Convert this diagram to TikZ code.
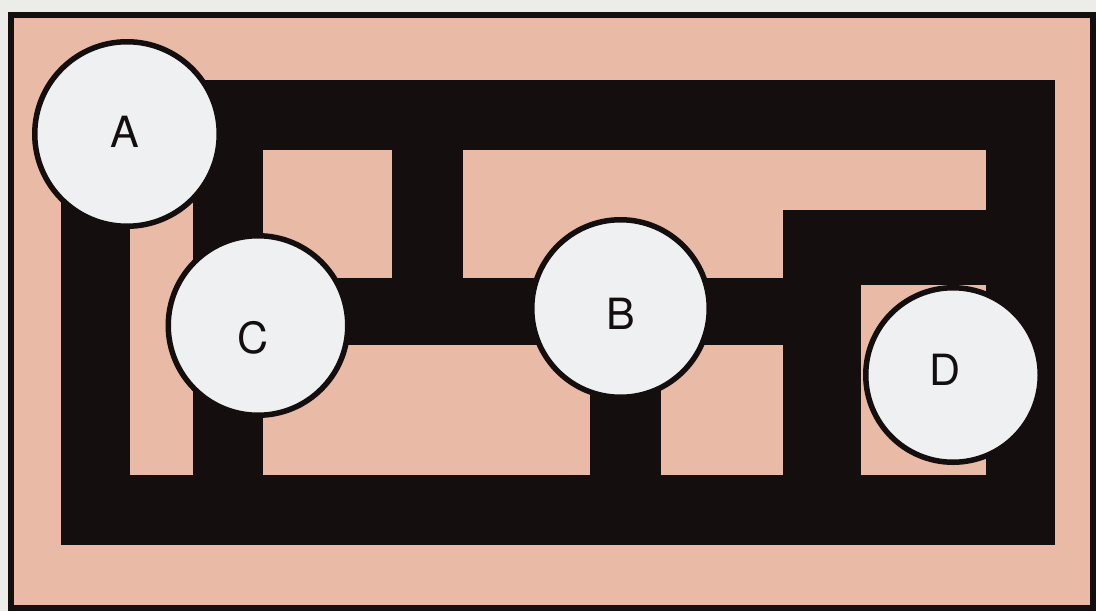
\documentclass[tikz,border=0pt]{standalone}
\usepackage{fontspec}
\setmainfont{TeX Gyre Heros}
\definecolor{paper}{RGB}{236,236,233}
\definecolor{salmon}{RGB}{233,186,165}
\definecolor{discfill}{RGB}{238,240,241}
\definecolor{ink}{RGB}{20,14,14}
\begin{document}
\begin{tikzpicture}[x=1pt,y=-1pt,
  wall/.style={fill=ink, draw=none},
  disc/.style={circle, draw=ink, line width=5.5pt, fill=discfill, inner sep=0pt},
  lab/.style={font=\fontsize{43}{50}\selectfont, text=ink, inner sep=0pt}]
% canvas
\useasboundingbox (0,0) rectangle (1096,611);
\fill[paper] (0,0) rectangle (1096,611);
\fill[salmon] (11,15) rectangle (1093,608);
\draw[ink, line width=6pt] (11,15) rectangle (1093,608);
% black corridors
\fill[wall] (150,80) rectangle (1055,150);   % top bar
\fill[wall] (61,180) rectangle (130,545);    % left bar
\fill[wall] (193,80) rectangle (263,545);    % vertical through C
\fill[wall] (392,80) rectangle (463,345);    % vertical to middle bar
\fill[wall] (263,278) rectangle (783,345);   % middle bar
\fill[wall] (590,340) rectangle (661,545);   % vertical below B
\fill[wall] (783,210) rectangle (1055,285);  % block above D
\fill[wall] (783,210) rectangle (861,545);   % vertical left of D
\fill[wall] (986,80) rectangle (1055,545);   % right bar
\fill[wall] (61,475) rectangle (1055,545);   % bottom bar
% discs
\node[disc, minimum size=184.5pt] (A) at (127,134) {};
\node[disc, minimum size=179.5pt] (C) at (258,325.5) {};
\node[disc, minimum size=177.5pt] (B) at (620.5,308.5) {};
\node[disc, minimum size=174.5pt] (D) at (953,375) {};
% labels
\node[lab] (lA) at (125,132) {A};
\node[lab] (lC) at (253,338) {C};
\node[lab] (lB) at (621,314) {B};
\node[lab] (lD) at (945,370) {D};
\end{tikzpicture}
\end{document}
